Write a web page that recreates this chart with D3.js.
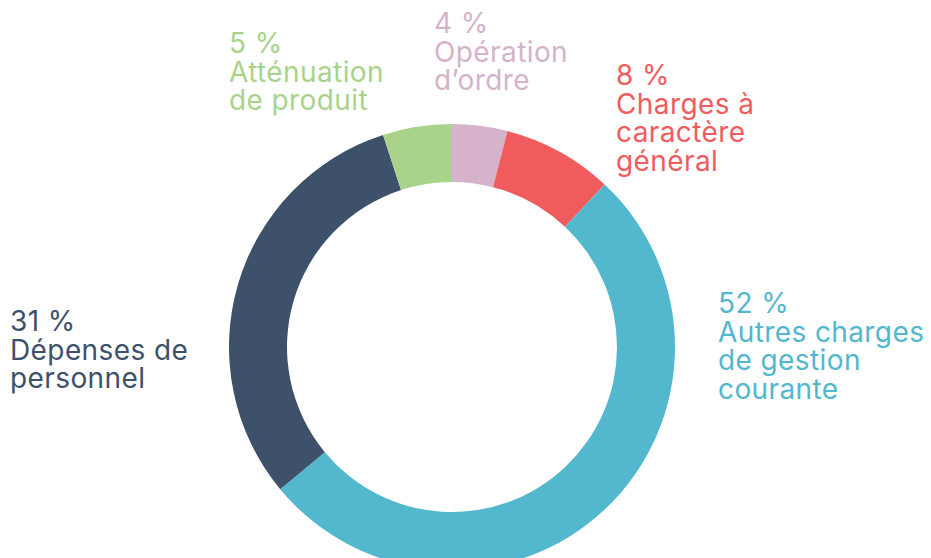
<!DOCTYPE html>
<html>
<head>
<meta charset="utf-8">
<script src="https://cdn.jsdelivr.net/npm/d3@7"></script>
<style>
  html, body { margin: 0; padding: 0; background: #fff; }
  svg { display: block; }
  .slice-label { font-family: "Inter", "Lato", sans-serif; font-size: 28px; font-weight: 400; letter-spacing: 0.4px; }
</style>
</head>
<body>
<div id="chart"></div>
<script>
// data, clockwise from the top
var categories = ['Opération d\u2019ordre', 'Charges à caractère général', 'Autres charges de gestion courante', 'Dépenses de personnel', 'Atténuation de produit'];
var percents = [4, 8, 52, 31, 5];
var labelLines = [
    ['Opération', 'd\u2019ordre'],
    ['Charges à', 'caractère', 'général'],
    ['Autres charges', 'de gestion', 'courante'],
    ['Dépenses de', 'personnel'],
    ['Atténuation', 'de produit']
];
var colors = ['#d4b3cb', '#f05c5e', '#53b7cd', '#3d516b', '#a9d38b'];

var width = 931, height = 558;
var cx = 452, cy = 347, outerR = 223, innerR = 165;

// where each text block starts (x, baseline of first line)
var labelPos = [
    {x: 434, y: 33},
    {x: 616, y: 85},
    {x: 718, y: 313},
    {x: 10, y: 331},
    {x: 229, y: 53}
];
var lineStep = 28.5;

var svg = d3.select('#chart').append('svg')
    .attr('width', width)
    .attr('height', height);

var data = categories.map(function(c, i) {
    return {name: c, value: percents[i], color: colors[i], lines: labelLines[i], pos: labelPos[i]};
});

var pie = d3.pie()
    .value(function(d) { return d.value; })
    .sort(null);

var arc = d3.arc()
    .innerRadius(innerR)
    .outerRadius(outerR);

var g = svg.append('g')
    .attr('transform', 'translate(' + cx + ',' + cy + ')');

g.selectAll('path')
    .data(pie(data))
    .enter().append('path')
    .attr('d', arc)
    .style('fill', function(d) { return d.data.color; });

var labels = svg.selectAll('text.slice-label')
    .data(data)
    .enter().append('text')
    .attr('class', 'slice-label')
    .style('fill', function(d) { return d.color; })
    .attr('x', function(d) { return d.pos.x; })
    .attr('y', function(d) { return d.pos.y; });

labels.each(function(d) {
    var t = d3.select(this);
    var rows = [d.value + ' %'].concat(d.lines);
    rows.forEach(function(r, i) {
        t.append('tspan')
            .attr('x', d.pos.x)
            .attr('y', d.pos.y + i * lineStep)
            .text(r);
    });
});
</script>
</body>
</html>
